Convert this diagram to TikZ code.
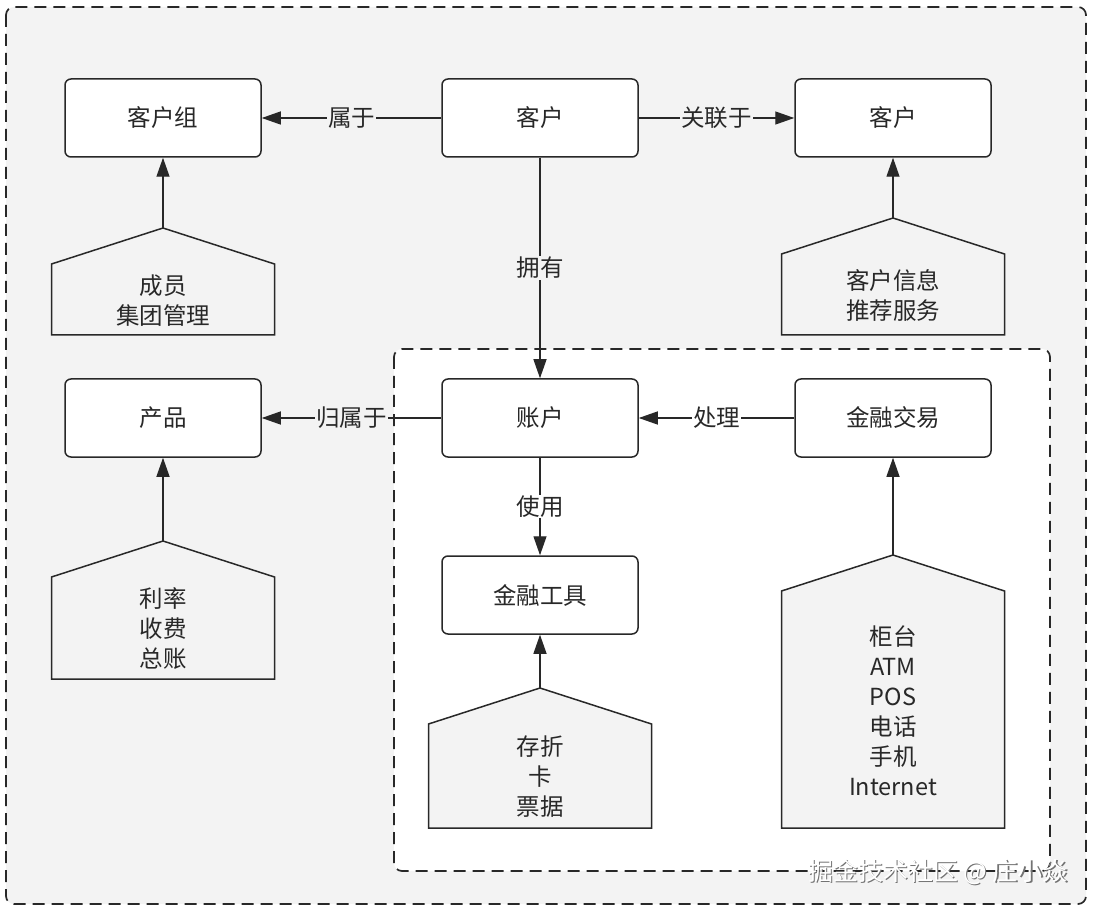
\documentclass[tikz,border=0pt]{standalone}
\usepackage{fontspec}
\setmainfont{Noto Sans CJK SC}
\usetikzlibrary{arrows.meta,shapes}
\definecolor{bggray}{RGB}{243,243,243}
\definecolor{inkgray}{RGB}{40,40,40}
\tikzstyle{entity}=[rectangle,rounded corners=6pt,draw=inkgray,line width=1.5pt,fill=white,minimum width=196pt,minimum height=78pt,inner sep=0pt,font=\fontsize{23.5}{30}\selectfont,text=inkgray]
\tikzstyle{housetext}=[align=center,inner sep=0pt,font=\fontsize{23.5}{30}\selectfont,text=inkgray]
\tikzstyle{house}=[draw=inkgray,line width=1.5pt,fill=bggray]
\tikzstyle{edge}=[draw=inkgray,line width=1.3pt,-{Triangle[length=19pt,width=13pt]}]
\tikzstyle{rel}=[font=\fontsize{23.5}{30}\selectfont,text=inkgray,inner sep=1pt]
\tikzstyle{frame}=[draw=inkgray,line width=1.7pt,dash pattern=on 12pt off 7pt,rounded corners=8pt]

\begin{document}
\begin{tikzpicture}[x=1pt,y=-1pt]

    \useasboundingbox (0,0) rectangle (1093,909);

    % frames
    \draw[frame, fill=bggray] (6,7) rectangle (1086,904);
    \draw[frame, fill=white] (394,349) rectangle (1050,871);

    % entities
    \foreach \x/\y/\name/\txt in {163/118/grp/客户组, 540/118/cust/客户, 893/118/custb/客户,
                                  163/418/prod/产品, 540/418/acct/账户, 893/418/txn/金融交易,
                                  540/595/tool/金融工具}
        \node[entity] (\name) at (\x,\y) {\txt};

    % houses
    \foreach \cx/\ytop/\ybot/\name/\dest/\txt in {163/228/335/members/grp/{成员\\集团管理},
                                                  893/218/335/info/custb/{客户信息\\推荐服务},
                                                  163/541/679/rate/prod/{利率\\收费\\总账},
                                                  540/688/828/media/tool/{存折\\卡\\票据},
                                                  893/555/828/chan/txn/{柜台\\ATM\\POS\\电话\\手机\\Internet}}
    {
        \draw[house] (\cx-111.5,\ybot) -- (\cx-111.5,\ytop+36) -- (\cx,\ytop)
            -- (\cx+111.5,\ytop+36) -- (\cx+111.5,\ybot) -- cycle;
        \coordinate (\name-top) at (\cx,\ytop);
        \node[housetext] (\name) at (\cx,{(\ytop+36+\ybot)/2+1}) {\txt};
        \path[edge] (\name-top) -- (\dest);
    }

    % relations
    \foreach \source/ \dest /\lbl/\bg in {cust/grp/属于/bggray, cust/custb/关联于/bggray,
                                          cust/acct/拥有/bggray, acct/prod/归属于/bggray,
                                          txn/acct/处理/white, acct/tool/使用/white}
        \path[edge] (\source) -- node[rel, fill=\bg] {\lbl} (\dest);

    % watermark
    \node[font=\fontsize{25}{28}\selectfont, text=black!55] (markshadow) at (939.3,873.3) {掘金技术社区 @ 庄小焱};
    \node[font=\fontsize{25}{28}\selectfont, text=white] (mark) at (938,872) {掘金技术社区 @ 庄小焱};

\end{tikzpicture}
\end{document}
